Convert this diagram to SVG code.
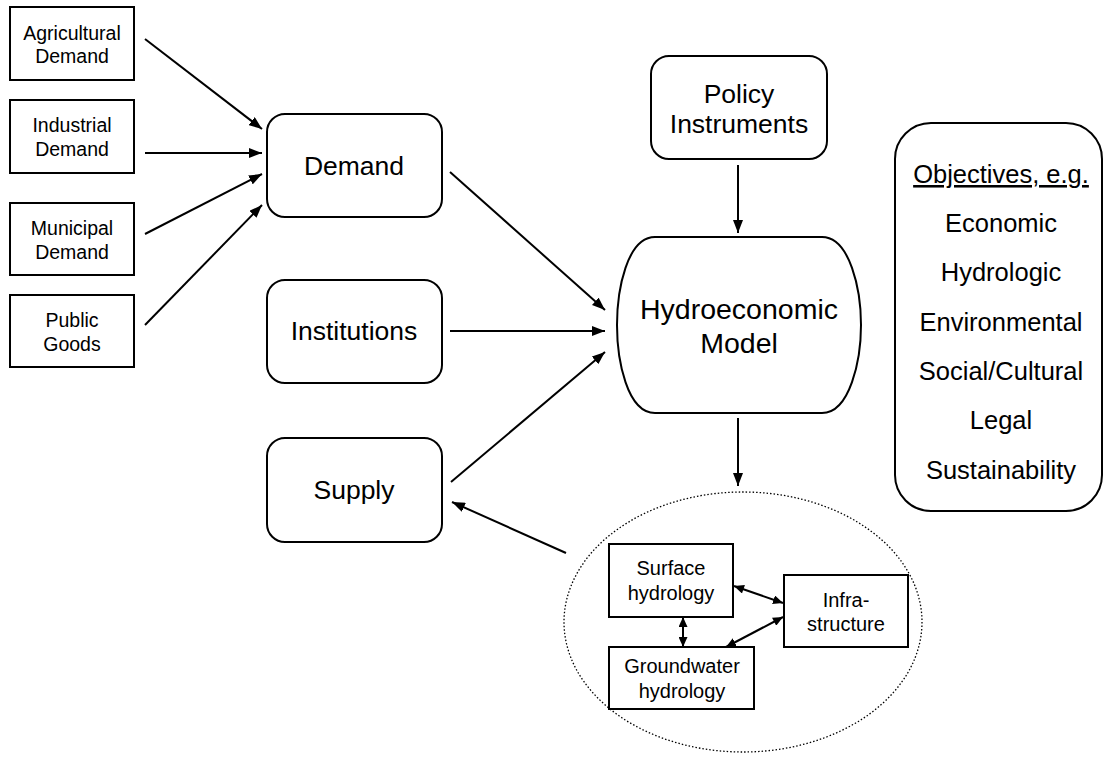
<svg xmlns="http://www.w3.org/2000/svg" width="1103" height="761" viewBox="0 0 1103 761">
<style>
  .box{fill:#fff;stroke:#000;stroke-width:2}
  .t{font-family:"Liberation Sans",Arial,sans-serif;fill:#000;text-anchor:middle}
  .s19{font-size:19.5px}
  .s20{font-size:20px}
  .s26{font-size:26.5px}
  .s28{font-size:28.5px}
  .s25{font-size:25.5px}
  .c{stroke:#000;stroke-width:2;fill:none}
  .ca{marker-end:url(#ah)}
  .cb{stroke-width:2;marker-end:url(#ahs);marker-start:url(#ahs0)}
</style>
<defs>
  <marker id="ah" markerUnits="userSpaceOnUse" markerWidth="14" markerHeight="10" refX="13" refY="5" orient="auto">
    <path d="M0,0 L13,5 L0,10 Z" fill="#000"/>
  </marker>
  <marker id="ahs" markerUnits="userSpaceOnUse" markerWidth="11" markerHeight="9" refX="10" refY="4.5" orient="auto">
    <path d="M0,0 L10,4.5 L0,9 Z" fill="#000"/>
  </marker>
  <marker id="ahs0" markerUnits="userSpaceOnUse" markerWidth="11" markerHeight="9" refX="0" refY="4.5" orient="auto">
    <path d="M10,0 L0,4.5 L10,9 Z" fill="#000"/>
  </marker>
</defs>

<g id="connectors">
  <line class="c ca" x1="145" y1="39" x2="262" y2="129"/>
  <line class="c ca" x1="145" y1="153" x2="262" y2="153"/>
  <line class="c ca" x1="145" y1="234" x2="262" y2="174"/>
  <line class="c ca" x1="145" y1="325" x2="262" y2="205"/>
  <line class="c ca" x1="450" y1="172" x2="605" y2="310"/>
  <line class="c ca" x1="450" y1="331" x2="605" y2="331"/>
  <line class="c ca" x1="451" y1="482" x2="605" y2="352"/>
  <line class="c ca" x1="738" y1="165" x2="738" y2="233"/>
  <line class="c ca" x1="738" y1="418" x2="738" y2="486"/>
  <line class="c ca" x1="566" y1="553" x2="452" y2="502"/>
  <line class="c cb" x1="734" y1="586" x2="783" y2="603"/>
  <line class="c cb" x1="783" y1="617" x2="726" y2="647"/>
  <line class="c cb" x1="683" y1="617" x2="683" y2="647"/>
</g>

<g id="agricultural-demand">
  <rect class="box" x="10" y="7" width="124" height="73"/>
  <text class="t s19" x="72" y="40">Agricultural</text>
  <text class="t s19" x="72" y="63">Demand</text>
</g>
<g id="industrial-demand">
  <rect class="box" x="10" y="100" width="124" height="73"/>
  <text class="t s19" x="72" y="132">Industrial</text>
  <text class="t s19" x="72" y="156">Demand</text>
</g>
<g id="municipal-demand">
  <rect class="box" x="10" y="203" width="124" height="72"/>
  <text class="t s19" x="72" y="235">Municipal</text>
  <text class="t s19" x="72" y="259">Demand</text>
</g>
<g id="public-goods">
  <rect class="box" x="10" y="295" width="124" height="72"/>
  <text class="t s19" x="72" y="327">Public</text>
  <text class="t s19" x="72" y="351">Goods</text>
</g>

<g id="demand">
  <rect class="box" x="267" y="114" width="175" height="103" rx="18"/>
  <text class="t s26" x="354" y="175">Demand</text>
</g>
<g id="institutions">
  <rect class="box" x="267" y="280" width="175" height="103" rx="18"/>
  <text class="t s26" x="354" y="340">Institutions</text>
</g>
<g id="supply">
  <rect class="box" x="267" y="438" width="175" height="104" rx="18"/>
  <text class="t s26" x="354" y="499">Supply</text>
</g>

<g id="policy-instruments">
  <rect class="box" x="651" y="56" width="176" height="103" rx="18"/>
  <text class="t s26" x="739" y="103">Policy</text>
  <text class="t s26" x="739" y="133">Instruments</text>
</g>

<g id="hydroeconomic-model">
  <path class="box" d="M655,237 L822,237 C850,237 861,290 861,325 C861,360 850,413 822,413 L655,413 C627,413 617,360 617,325 C617,290 627,237 655,237 Z"/>
  <text class="t s28" x="739" y="319">Hydroeconomic</text>
  <text class="t s28" x="739" y="353">Model</text>
</g>

<g id="objectives">
  <rect class="box" x="895" y="123" width="207" height="388" rx="36"/>
  <text class="t s25" x="1001" y="183" text-decoration="underline">Objectives, e.g.</text>
  <text class="t s25" x="1001" y="232">Economic</text>
  <text class="t s25" x="1001" y="281">Hydrologic</text>
  <text class="t s25" x="1001" y="331">Environmental</text>
  <text class="t s25" x="1001" y="380">Social/Cultural</text>
  <text class="t s25" x="1001" y="429">Legal</text>
  <text class="t s25" x="1001" y="479">Sustainability</text>
</g>

<g id="physical-system">
  <ellipse cx="743" cy="622" rx="179" ry="130" fill="none" stroke="#000" stroke-width="1.3" stroke-dasharray="1.5 2"/>
</g>
<g id="surface-hydrology">
  <rect class="box" x="609" y="544" width="124" height="73"/>
  <text class="t s20" x="671" y="575">Surface</text>
  <text class="t s20" x="671" y="600">hydrology</text>
</g>
<g id="infrastructure">
  <rect class="box" x="784" y="575" width="124" height="72"/>
  <text class="t s20" x="846" y="607">Infra-</text>
  <text class="t s20" x="846" y="631">structure</text>
</g>
<g id="groundwater-hydrology">
  <rect class="box" x="609" y="647" width="145" height="62"/>
  <text class="t s20" x="682" y="673">Groundwater</text>
  <text class="t s20" x="682" y="698">hydrology</text>
</g>
</svg>
